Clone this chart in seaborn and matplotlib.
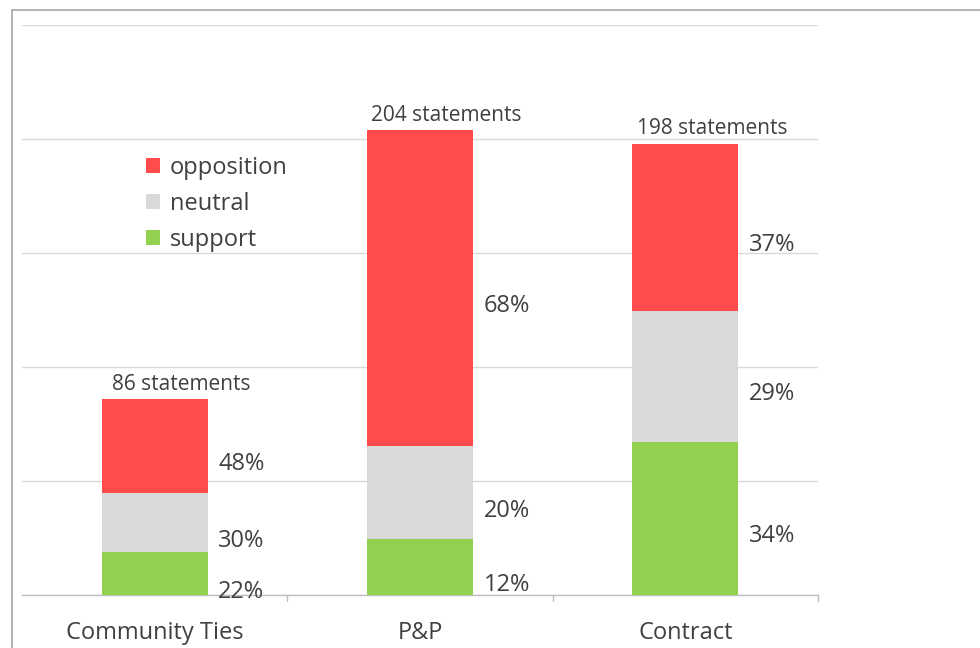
import matplotlib
matplotlib.use("Agg")
import matplotlib.pyplot as plt
from matplotlib.lines import Line2D
from matplotlib.patches import Patch
import seaborn as sns
import pandas as pd
import numpy as np

categories = ["Community Ties", "P&P", "Contract"]
totals = [86, 204, 198]
support_pct = [22, 12, 34]
neutral_pct = [30, 20, 29]
opposition_pct = [48, 68, 37]

colors = {"support": "#92D050", "neutral": "#D9D9D9", "opposition": "#FF4B4B"}
text_color = "#404040"

sns.set_theme(style="white")
plt.rcParams['font.family'] = ['Open Sans', 'DejaVu Sans']

fig = plt.figure(figsize=(9.8, 6.48), dpi=100)
ax = fig.add_axes([22/980, 53/648, 796/980, 570/648])

tot = np.array(totals, dtype=float)
sup = tot * np.array(support_pct) / 100
neu = tot * np.array(neutral_pct) / 100
opp = tot * np.array(opposition_pct) / 100

df = pd.DataFrame({"category": categories, "support": sup, "neutral": neu,
                   "opposition": opp})

bottoms = {"support": np.zeros(3), "neutral": sup, "opposition": sup + neu}
for key in ["support", "neutral", "opposition"]:
    sns.barplot(data=df, x="category", y=key, order=categories, color=colors[key],
                width=0.4, bottom=bottoms[key], ax=ax, saturation=1,
                edgecolor="none", linewidth=0, zorder=3)

ax.set_xlim(-0.5, 2.5)
ax.set_ylim(0, 250)
ax.set_yticks(np.arange(0, 251, 50))
ax.yaxis.grid(True, color="#D9D9D9", linewidth=1)
ax.set_axisbelow(True)
ax.tick_params(axis="y", left=False, labelleft=False)
for s in ["top", "right", "left"]:
    ax.spines[s].set_visible(False)
ax.spines["bottom"].set_color("#BFBFBF")
ax.spines["bottom"].set_linewidth(1)
ax.set_xlabel("")
ax.set_ylabel("")
ax.set_xticks([0, 1, 2])
ax.set_xticklabels(categories, fontsize=17, color=text_color)
ax.tick_params(axis="x", length=0, pad=19)
# boundary tick marks
for xb in [0.5, 1.5, 2.5]:
    ax.plot([xb, xb], [0, -2.5], color="#BFBFBF", linewidth=1, clip_on=False)

# percentage labels
for i in range(3):
    segs = [(sup[i], 0, support_pct[i]), (neu[i], sup[i], neutral_pct[i]),
            (opp[i], sup[i] + neu[i], opposition_pct[i])]
    for h, b, p in segs:
        ax.text(i + 0.24, b + h / 2 - 8, f"{p}%", fontsize=17, color=text_color,
                ha="left", va="center")
    ax.text(i + 0.1, tot[i] + 6.5, f"{totals[i]} statements", fontsize=15,
            color=text_color, ha="center", va="center")

handles = [Patch(facecolor=colors[k], edgecolor="none") for k in
           ["opposition", "neutral", "support"]]
leg = ax.legend(handles, ["opposition", "neutral", "support"],
                loc="upper left", bbox_to_anchor=(0.156, 0.77), frameon=False,
                fontsize=17, handlelength=0.6, handleheight=0.6,
                handletextpad=0.4, labelspacing=0.5, borderaxespad=0,
                borderpad=0)
for t in leg.get_texts():
    t.set_color(text_color)

# outer frame of screenshot
fig.add_artist(Line2D([12/980, 1], [1 - 10/648, 1 - 10/648], color="#A6A6A6",
                      linewidth=1.2, transform=fig.transFigure))
fig.add_artist(Line2D([12/980, 12/980], [0, 1 - 10/648], color="#A6A6A6",
                      linewidth=1.2, transform=fig.transFigure))

fig.savefig("out.png", dpi=100)
